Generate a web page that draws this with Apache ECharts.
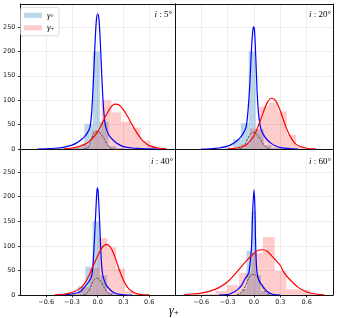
<!DOCTYPE html>
<html><head><meta charset="utf-8">
<script src="https://cdn.jsdelivr.net/npm/echarts@6/dist/echarts.min.js"></script>
<style>html,body{margin:0;padding:0;background:#fff}#c{width:352px;height:318px}</style>
</head><body><div id="c"></div>
<script>
// ---------- data ----------
const panelLabels = ['5°', '20°', '40°', '60°'];
const xTicks = [-0.6, -0.3, 0, 0.3, 0.6];
const yTicks = [0, 50, 100, 150, 200, 250];

// histograms: [left edge, right edge, count]
const crossHist5 = [[-0.336,-0.246,2],[-0.246,-0.156,5],[-0.156,-0.057,51],[-0.057,0.026,200],[0.026,0.125,56],[0.125,0.215,6],[0.215,0.305,2]];
const plusHist5 = [[-0.297,-0.183,2],[-0.183,-0.069,8],[-0.069,0.045,38],[0.045,0.159,100],[0.159,0.273,75],[0.273,0.386,56],[0.386,0.5,44],[0.5,0.614,17],[0.614,0.727,5]];
const crossHist20 = [[-0.33,-0.24,3],[-0.24,-0.15,20],[-0.15,-0.06,53],[-0.06,0.02,200],[0.02,0.11,40],[0.11,0.2,8],[0.2,0.29,2]];
const plusHist20 = [[-0.255,-0.15,2],[-0.15,-0.045,10],[-0.045,0.06,42],[0.06,0.165,87],[0.165,0.27,95],[0.27,0.375,77],[0.375,0.48,29],[0.48,0.585,5]];
const crossHist40 = [[-0.315,-0.23,2],[-0.23,-0.145,18],[-0.145,-0.06,58],[-0.06,0.025,150],[0.025,0.11,40],[0.11,0.195,5],[0.195,0.28,1]];
const plusHist40 = [[-0.403,-0.3,2],[-0.3,-0.197,3],[-0.197,-0.094,16],[-0.094,0.009,55],[0.009,0.112,116],[0.112,0.215,97],[0.215,0.318,53],[0.318,0.421,8],[0.421,0.524,3]];
const crossHist60 = [[-0.195,-0.14,3],[-0.14,-0.085,12],[-0.085,-0.03,90],[-0.03,0.025,170],[0.025,0.08,40],[0.08,0.135,8],[0.135,0.19,2]];
const plusHist60 = [[-0.58,-0.44,2],[-0.44,-0.31,8],[-0.31,-0.17,20],[-0.17,-0.03,45],[-0.03,0.1,85],[0.1,0.235,118],[0.235,0.37,49],[0.37,0.5,12],[0.5,0.64,11],[0.64,0.77,2]];

// density curves: [x, y]
const crossKde5 = [[-0.7,0],[-0.6,0.5],[-0.5,1.5],[-0.4,3.5],[-0.3,8],[-0.25,12],[-0.2,18],[-0.15,26],[-0.12,33],[-0.09,45],[-0.07,75],[-0.05,140],[-0.03,220],[-0.015,265],[0,277],[0.015,265],[0.03,220],[0.05,140],[0.07,78],[0.09,48],[0.12,32],[0.15,24],[0.2,15],[0.25,9],[0.3,5],[0.4,2],[0.5,1],[0.6,0.3],[0.7,0]];
const plusKde5 = [[-0.4,0.5],[-0.3,2],[-0.2,6],[-0.1,15],[0,35],[0.05,52],[0.1,70],[0.15,85],[0.2,92],[0.25,90],[0.3,80],[0.35,66],[0.4,50],[0.45,35],[0.5,22],[0.55,13],[0.6,7],[0.7,2],[0.8,0.5]];
const grayKde5 = [[-0.16,0],[-0.12,2],[-0.1,6],[-0.08,16],[-0.06,27],[-0.04,33],[-0.02,36],[0,35.5],[0.02,34],[0.05,28],[0.08,19],[0.1,12],[0.13,5],[0.16,1],[0.2,0]];

const crossKde20 = [[-0.6,0],[-0.5,0.5],[-0.4,2],[-0.3,6],[-0.25,10],[-0.2,16],[-0.15,25],[-0.12,33],[-0.09,45],[-0.07,75],[-0.05,125],[-0.03,200],[-0.015,240],[-0.005,250],[0.005,245],[0.02,190],[0.035,120],[0.05,75],[0.07,48],[0.09,36],[0.12,26],[0.15,19],[0.2,11],[0.25,6],[0.3,3],[0.4,1],[0.5,0]];
const plusKde20 = [[-0.3,0.5],[-0.2,2],[-0.1,7],[-0.05,15],[0,27],[0.05,48],[0.1,72],[0.15,95],[0.2,104],[0.25,98],[0.3,78],[0.35,52],[0.4,30],[0.45,15],[0.5,7],[0.6,1.5],[0.7,0.3]];
const grayKde20 = [[-0.17,0],[-0.13,3],[-0.1,10],[-0.07,22],[-0.04,31],[-0.01,34],[0.02,32],[0.05,26],[0.08,17],[0.11,9],[0.14,3],[0.18,0]];

const crossKde40 = [[-0.45,0],[-0.35,1],[-0.3,2],[-0.25,4],[-0.2,7],[-0.144,18],[-0.1,28],[-0.068,40],[-0.05,75],[-0.03,140],[-0.015,195],[-0.005,218],[0.005,210],[0.02,160],[0.035,95],[0.05,52],[0.065,36],[0.1,20],[0.16,8],[0.2,4],[0.25,1.5],[0.3,0.5],[0.4,0]];
const plusKde40 = [[-0.5,0.3],[-0.4,1.5],[-0.3,5],[-0.2,14],[-0.15,24],[-0.1,40],[-0.05,60],[0,80],[0.05,96],[0.1,103],[0.15,97],[0.2,78],[0.25,52],[0.3,30],[0.35,15],[0.4,7],[0.45,3],[0.5,1],[0.6,0.2]];
const grayKde40 = [[-0.17,0],[-0.13,3],[-0.1,10],[-0.07,22],[-0.04,31],[-0.015,34],[0.01,33],[0.04,27],[0.07,17],[0.1,8],[0.13,3],[0.17,0]];

const crossKde60 = [[-0.4,0],[-0.3,1],[-0.25,4],[-0.18,12],[-0.14,20],[-0.105,32],[-0.075,40],[-0.057,46],[-0.03,94],[-0.015,170],[0,214],[0.01,180],[0.02,94],[0.034,46],[0.06,28],[0.1,18],[0.15,7],[0.21,1.5],[0.3,0]];
const plusKde60 = [[-0.8,0.5],[-0.7,2],[-0.6,4],[-0.5,8],[-0.4,15],[-0.3,27],[-0.2,46],[-0.1,67],[0,85],[0.05,91],[0.1,92],[0.15,89],[0.2,80],[0.3,60],[0.34,46],[0.4,33],[0.5,16],[0.6,6],[0.7,2],[0.8,0.5]];
const grayKde60 = [[-0.2,0],[-0.16,3],[-0.12,10],[-0.09,22],[-0.06,34],[-0.03,41],[0,42],[0.03,39],[0.06,30],[0.09,19],[0.12,9],[0.15,3],[0.19,0]];

const crossHists = [crossHist5, crossHist20, crossHist40, crossHist60];
const plusHists = [plusHist5, plusHist20, plusHist40, plusHist60];
const crossKdes = [crossKde5, crossKde20, crossKde40, crossKde60];
const plusKdes = [plusKde5, plusKde20, plusKde40, plusKde60];
const grayKdes = [grayKde5, grayKde20, grayKde40, grayKde60];

// ---------- layout ----------
const grids = [
  {left: 18, top: 4, width: 157, height: 145},
  {left: 175, top: 4, width: 158, height: 145},
  {left: 18, top: 149, width: 157, height: 146},
  {left: 175, top: 149, width: 158, height: 146}
];
const SERIF = 'Liberation Serif';
const tickFont = {fontFamily: 'DejaVu Sans', fontSize: 6.5, color: '#222'};
const frameLine = {show: true, onZero: false, lineStyle: {color: '#111', width: 1}};

function fmtX(v) {
  const s = Math.abs(v).toFixed(1);
  return (v < -1e-9 ? '\u2212' : '') + s;
}

const xAxes = [], yAxes = [];
grids.forEach((g, k) => {
  xAxes.push({
    type: 'value', gridIndex: k, position: 'bottom', min: -0.9, max: 0.9, interval: 0.3,
    axisLine: frameLine,
    axisTick: {show: k >= 2, length: 2.5, lineStyle: {color: '#000', width: 0.8}, customValues: xTicks},
    axisLabel: Object.assign({show: k >= 2, margin: 3.5, formatter: fmtX, customValues: xTicks}, tickFont),
    splitLine: {show: true, lineStyle: {color: '#e8e8e8', width: 0.8}}
  });
  yAxes.push({
    type: 'value', gridIndex: k, position: 'left', min: 0, max: 297, interval: 50,
    axisLine: frameLine,
    axisTick: {show: k % 2 === 0, length: 2.5, lineStyle: {color: '#000', width: 0.8}, customValues: yTicks},
    axisLabel: Object.assign({show: k % 2 === 0, margin: 5, customValues: yTicks}, tickFont),
    splitLine: {show: true, lineStyle: {color: '#e8e8e8', width: 0.8}}
  });
});
// frame axes (top and right spines)
grids.forEach((g, k) => {
  xAxes.push({type: 'value', gridIndex: k, position: 'top', min: -0.9, max: 0.9,
    axisLine: frameLine, axisTick: {show: false}, axisLabel: {show: false}, splitLine: {show: false}});
  yAxes.push({type: 'value', gridIndex: k, position: 'right', min: 0, max: 297,
    axisLine: frameLine, axisTick: {show: false}, axisLabel: {show: false}, splitLine: {show: false}});
});

function renderBar(params, api) {
  const p0 = api.coord([api.value(0), api.value(2)]);
  const p1 = api.coord([api.value(1), 0]);
  return {type: 'rect', shape: {x: p0[0], y: p0[1], width: p1[0] - p0[0], height: p1[1] - p0[1]}, style: api.style()};
}

const series = [];
for (let k = 0; k < 4; k++) {
  series.push({
    type: 'custom', name: 'γ×', xAxisIndex: k, yAxisIndex: k, renderItem: renderBar,
    encode: {x: [0, 1], y: 2}, data: crossHists[k], itemStyle: {color: 'rgba(31,119,180,0.3)'}, z: 1, silent: true
  });
  series.push({
    type: 'custom', name: 'γ+', xAxisIndex: k, yAxisIndex: k, renderItem: renderBar,
    encode: {x: [0, 1], y: 2}, data: plusHists[k], itemStyle: {color: 'rgba(255,0,0,0.2)'}, z: 2, silent: true
  });
  series.push({
    type: 'line', name: 'kdeCross', xAxisIndex: k, yAxisIndex: k, data: crossKdes[k],
    smooth: 0.3, symbol: 'none', lineStyle: {color: '#0000ff', width: 1.2}, itemStyle: {color: '#0000ff'}, z: 5, silent: true
  });
  series.push({
    type: 'line', name: 'kdePlus', xAxisIndex: k, yAxisIndex: k, data: plusKdes[k],
    smooth: 0.3, symbol: 'none', lineStyle: {color: '#ff0000', width: 1.2}, itemStyle: {color: '#ff0000'}, z: 5, silent: true
  });
  series.push({
    type: 'line', name: 'kdeGray', xAxisIndex: k, yAxisIndex: k, data: grayKdes[k],
    smooth: 0.3, symbol: 'none', lineStyle: {color: '#4d4d4d', width: 1, type: [2.5, 1.2]}, itemStyle: {color: '#4d4d4d'}, z: 4, silent: true
  });
}

const titlePos = [
  {right: 180, top: 10.5}, {right: 21, top: 10.5}, {right: 179, top: 157}, {right: 21, top: 157}
];
const titles = panelLabels.map((lab, k) => Object.assign({
  text: '{i|i} : ' + lab, padding: 0,
  textStyle: {fontFamily: SERIF, fontSize: 9, fontWeight: 'normal', color: '#000',
    rich: {i: {fontFamily: SERIF, fontStyle: 'italic', fontSize: 9, color: '#000'}}}
}, titlePos[k]));

const chart = echarts.init(document.getElementById('c'), null, {renderer: 'canvas'});
chart.setOption({
  animation: false,
  backgroundColor: '#fff',
  grid: grids.map(g => Object.assign({show: false}, g)),
  xAxis: xAxes,
  yAxis: yAxes,
  title: titles,
  legend: {
    data: ['γ×', 'γ+'], orient: 'vertical', left: 20.7, top: 7.3, icon: 'rect',
    itemWidth: 18, itemHeight: 5, itemGap: 3.5, padding: [3.5, 5, 3.5, 3.3],
    backgroundColor: 'rgba(255,255,255,0.85)', borderColor: '#d4d4d4', borderWidth: 0.8, borderRadius: 2,
    selectedMode: false,
    formatter: name => '{g|γ}{s|' + (name === 'γ×' ? '×' : '+') + '}',
    textStyle: {lineHeight: 9, rich: {
      g: {fontFamily: SERIF, fontStyle: 'italic', fontSize: 9, color: '#000', lineHeight: 9},
      s: {fontFamily: SERIF, fontSize: 6, color: '#000', padding: [3, 0, 0, 0], lineHeight: 9}
    }}
  },
  graphic: [{
    type: 'text', x: 174, y: 311,
    style: {text: '{g|γ}{s|+}', align: 'center', verticalAlign: 'middle',
      rich: {
        g: {fontFamily: SERIF, fontStyle: 'italic', fontSize: 12, fill: '#000'},
        s: {fontFamily: SERIF, fontSize: 9, fill: '#000', padding: [4, 0, 0, 0]}
      }}
  }],
  series: series
});
</script></body></html>
